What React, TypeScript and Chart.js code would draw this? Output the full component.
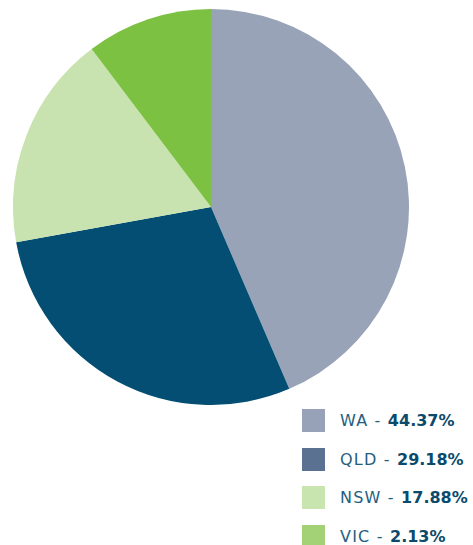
import React, { useEffect, useRef } from "react";
import { Chart, registerables } from "chart.js";

Chart.register(...registerables);

const categories = ["WA", "QLD", "NSW", "VIC"];
const sliceValues = [44.37, 29.18, 17.88, 10.5];
const legendValues = ["44.37%", "29.18%", "17.88%", "2.13%"];
const sliceColors = ["#98a3b7", "#034e72", "#c9e3b0", "#7dc143"];
const legendColors = ["#97a2b8", "#5b7191", "#c8e5b0", "#a3d176"];

export default function App() {
  const ref = useRef<HTMLCanvasElement | null>(null);

  useEffect(() => {
    if (!ref.current) return;
    const chart = new Chart(ref.current, {
      type: "pie",
      data: {
        labels: categories,
        datasets: [
          {
            data: sliceValues,
            backgroundColor: sliceColors,
            borderWidth: 0,
          },
        ],
      },
      options: {
        responsive: false,
        animation: false,
        layout: { padding: 0 },
        plugins: {
          legend: { display: false },
          tooltip: { enabled: false },
        },
      },
    });
    return () => chart.destroy();
  }, []);

  return (
    <div
      style={{
        position: "absolute",
        left: 0,
        top: 0,
        width: 473,
        height: 545,
        overflow: "hidden",
        background: "#fff",
        fontFamily: "'DejaVu Sans', sans-serif",
      }}
    >
      <canvas
        ref={ref}
        width={396}
        height={396}
        style={{ position: "absolute", left: 13, top: 9, width: 396, height: 396 }}
      />
      {categories.map((c, i) => (
        <div
          key={c}
          style={{
            position: "absolute",
            left: 302,
            top: 409 + i * 38.5,
            height: 23,
            display: "flex",
            alignItems: "center",
            whiteSpace: "nowrap",
          }}
        >
          <div style={{ width: 23, height: 23, background: legendColors[i] }} />
          <span
            style={{
              marginLeft: 15,
              fontSize: 16,
              letterSpacing: 1.2,
              color: "#24607e",
              fontWeight: 400,
              lineHeight: "23px",
            }}
          >
            {c} -{" "}
            <b style={{ color: "#0b4a6b", fontWeight: 700, letterSpacing: 0 }}>{legendValues[i]}</b>
          </span>
        </div>
      ))}
    </div>
  );
}
